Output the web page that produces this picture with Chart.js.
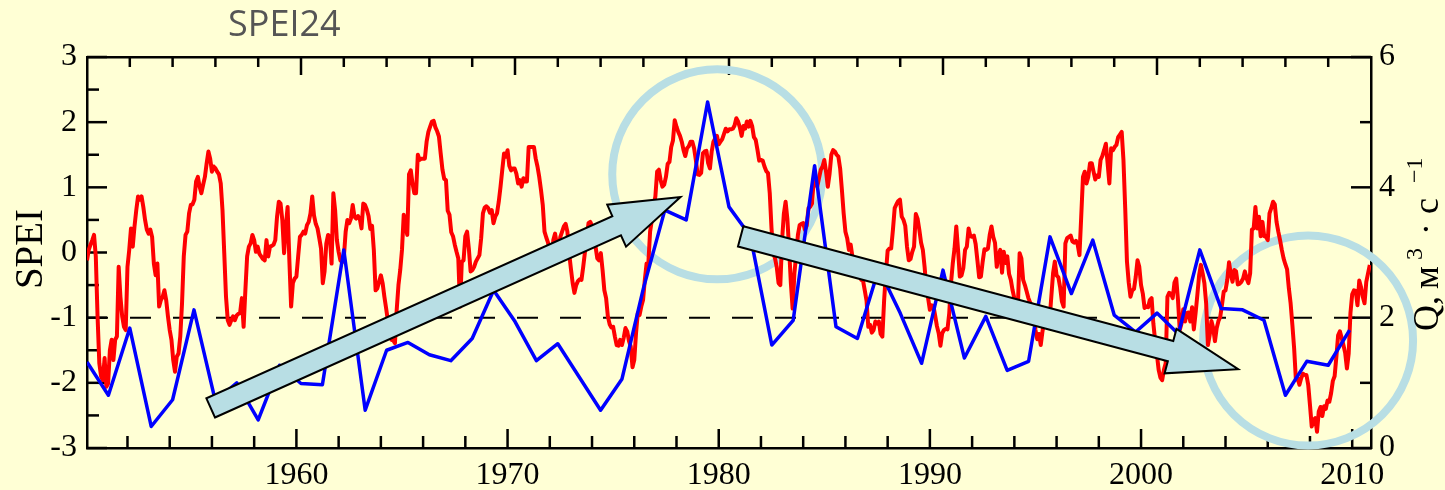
<!DOCTYPE html>
<html>
<head>
<meta charset="utf-8">
<title>SPEI24 и расход воды</title>
<script src="https://cdn.jsdelivr.net/npm/chart.js@4.4.1/dist/chart.umd.min.js"></script>
<style>
  html, body { margin: 0; padding: 0; background: #FFFFD5; }
  #wrap { width: 1445px; height: 490px; }
</style>
</head>
<body>
<div id="wrap"><canvas id="chart" width="1445" height="490"></canvas></div>
<script>
// SPEI-24, monthly values (January of each decade first)
const spei1950s = [
  -0.12, 0.04, 0.12, 0.19, 0.27, -0.06, -0.98, -1.70, -1.90, -1.96,
  -1.62, -2.06, -2.01, -1.50, -1.34, -1.65, -1.34, -1.29, -0.22, -0.68,
  -0.98, -1.14, -1.19, -0.22, 0.04, 0.37, 0.09, 0.40, 0.65, 0.86,
  0.81, 0.86, 0.70, 0.50, 0.35, 0.29, 0.35, 0.24, -0.17, -0.35,
  -0.17, -0.83, -0.73, -0.68, -0.58, -0.73, -0.98, -1.19, -1.34, -1.65,
  -1.83, -1.60, -1.55, -1.29, -0.78, -0.06, 0.27, 0.32, 0.60, 0.73,
  0.74, 0.81, 1.09, 1.16, 1.01, 0.91, 1.04, 1.16, 1.37, 1.55,
  1.44, 1.24, 1.32, 1.29, 1.24, 1.20, 1.06, 0.65, -0.01, -0.68,
  -1.04, -1.11, -1.04, -0.98, -1.04, -0.97, -0.94, -0.93, -0.70, -1.14,
  -0.58, -0.06, 0.09, 0.14, 0.27, 0.19, 0.01, 0.09, -0.02, -0.06,
  -0.10, -0.12, 0.19, -0.06, 0.09, 0.10, 0.12, 0.19, 0.55, 0.78,
  0.75, 0.50, -0.01, 0.40, 0.70, -0.12, -0.83, -0.47, -0.40, -0.37
];
const spei1960s = [
  -0.06, 0.24, 0.27, 0.32, 0.29, 0.42, 0.47, 0.60, 0.86, 0.57,
  0.44, 0.37, 0.22, 0.06, -0.47, -0.29, 0.14, 0.27, 0.24, -0.17,
  0.91, 0.65, 0.19, 0.01, -0.12, -0.15, -0.06, 0.32, 0.50, 0.45,
  0.52, 0.73, 0.55, 0.52, 0.56, 0.52, 0.37, 0.75, 0.73, 0.66,
  0.56, 0.36, 0.41, 0.04, -0.58, -0.55, -0.45, -0.35, -0.47, -0.68,
  -0.86, -1.05, -1.24, -1.34, -1.35, -1.39, -0.88, -0.50, -0.27, 0.04,
  0.58, 0.40, 0.27, 1.20, 1.26, 1.06, 0.91, 0.91, 1.50, 1.42,
  1.44, 1.44, 1.44, 1.70, 1.85, 1.93, 2.01, 2.02, 1.92, 1.86,
  1.78, 1.52, 1.27, 1.13, 1.11, 0.64, 0.58, 0.31, 0.25, 0.12,
  0.01, -0.09, -0.83, -0.14, -0.12, 0.25, 0.32, 0.06, -0.29, -0.27,
  -0.22, -0.14, -0.09, -0.04, 0.22, 0.60, 0.69, 0.71, 0.68, 0.61,
  0.65, 0.45, 0.55, 0.60, 0.78, 1.01, 1.27, 1.52, 1.47, 1.57
];
const spei1970s = [
  1.33, 1.26, 1.29, 1.29, 1.21, 1.06, 1.11, 1.01, 1.14, 1.09,
  1.09, 1.62, 1.62, 1.62, 1.62, 1.44, 1.32, 1.16, 0.96, 0.73,
  0.32, 0.23, 0.15, -0.01, -0.14, 0.19, 0.29, 0.12, 0.05, 0.24,
  0.32, 0.40, 0.44, 0.32, -0.01, -0.25, -0.47, -0.62, -0.50, -0.44,
  -0.41, -0.42, -0.22, 0.01, 0.24, 0.45, 0.47, 0.41, 0.12, 0.09,
  -0.09, -0.12, -0.01, -0.27, -0.58, -0.70, -0.98, -1.10, -1.15, -1.14,
  -1.29, -1.42, -1.43, -1.34, -1.42, -1.31, -1.16, -1.21, -1.36, -1.44,
  -1.76, -1.65, -1.24, -0.93, -0.96, -0.83, -0.73, -0.42, -0.17, -0.17,
  0.32, 0.50, 0.71, 0.86, 1.24, 1.27, 1.11, 1.01, 1.04, 1.16,
  1.36, 1.39, 1.62, 1.72, 2.03, 1.93, 1.85, 1.79, 1.70, 1.57,
  1.48, 1.60, 1.63, 1.70, 1.70, 1.60, 1.42, 1.20, 1.19, 1.22,
  1.52, 1.55, 1.56, 1.37, 1.29, 1.55, 1.70, 1.75, 1.79, 1.66
];
const spei1980s = [
  1.70, 1.74, 1.82, 1.90, 1.86, 1.89, 1.89, 1.90, 1.95, 2.06,
  2.01, 1.92, 1.79, 1.94, 1.90, 2.01, 1.93, 2.02, 1.94, 1.77,
  1.73, 1.58, 1.41, 1.42, 1.41, 1.32, 1.25, 1.22, 0.91, 0.37,
  -0.01, -0.09, -0.23, -0.47, -0.50, 0.19, 0.59, 0.78, 0.52, 0.06,
  -0.47, -0.86, -0.32, -0.04, 0.27, 0.42, 0.44, 0.45, 0.35, 0.41,
  0.68, 0.70, 0.75, 1.11, 1.14, 1.01, 1.14, 1.27, 1.32, 1.42,
  1.24, 1.01, 1.21, 1.50, 1.57, 1.55, 1.50, 1.47, 1.29, 0.96,
  0.60, 0.32, 0.22, 0.04, 0.12, -0.07, -0.14, -0.18, -0.21, -0.35,
  -0.42, -0.43, -0.58, -0.74, -1.14, -1.11, -1.23, -1.19, -1.06, -1.09,
  -1.06, -1.25, -1.29, -0.73, -0.32, 0.03, 0.06, 0.06, 0.35, 0.68,
  0.74, 0.79, 0.81, 0.55, 0.50, 0.41, 0.09, -0.12, -0.10, 0.01,
  0.09, 0.59, 0.52, 0.35, 0.15, 0.04, -0.22, -0.56, -0.70, -0.88
];
const spei1990s = [
  -0.81, -0.82, -0.97, -1.13, -1.24, -1.43, -1.24, -1.19, -1.17, -1.18,
  -0.93, -0.47, -0.17, 0.06, 0.40, 0.04, -0.37, -0.35, -0.24, 0.04,
  0.09, 0.37, 0.25, 0.24, 0.26, 0.13, -0.12, -0.38, -0.37, -0.14,
  0.05, 0.04, 0.06, 0.27, 0.40, 0.24, 0.15, -0.22, -0.04, 0.04,
  -0.31, 0.01, -0.16, -0.06, -0.33, -0.42, -0.58, -0.70, -0.78, -0.83,
  -0.01, -0.09, -0.42, -0.50, -0.60, -0.70, -0.77, -0.83, -0.93, -1.19,
  -1.33, -1.25, -1.42, -1.21, -1.04, -1.02, -1.01, -1.04, -0.68, -0.32,
  -0.14, -0.35, -0.38, -0.53, -0.75, -0.83, 0.14, 0.22, 0.24, 0.26,
  0.17, 0.15, 0.18, 0.12, -0.04, 0.55, 1.16, 1.24, 1.06, 1.16,
  1.37, 1.37, 1.24, 1.12, 1.18, 1.16, 1.42, 1.48, 1.57, 1.67,
  1.37, 1.06, 1.60, 1.57, 1.62, 1.65, 1.77, 1.81, 1.85, 1.42,
  0.68, -0.14, -0.46, -0.68, -0.58, -0.56, -0.37, -0.12, -0.22, -0.50
];
const spei2000s = [
  -0.63, -0.85, -0.83, -0.84, -0.73, -0.70, -1.09, -1.35, -1.56, -1.80,
  -1.92, -1.96, -1.80, -1.70, -0.68, -0.62, -0.63, -0.70, -0.46, -0.40,
  -0.73, -1.19, -1.09, -0.87, -1.06, -0.93, -0.92, -1.06, -0.84, -1.18,
  -0.93, -0.65, -0.35, -0.19, -0.32, -0.47, -0.78, -1.42, -1.27, -1.05,
  -1.16, -1.36, -1.16, -1.05, -0.99, -0.80, -0.60, -0.58, -0.42, -0.15,
  -0.33, -0.45, -0.27, -0.29, -0.49, -0.48, -0.45, -0.40, -0.29, -0.40,
  -0.47, -0.32, 0.35, 0.37, 0.70, 0.37, 0.55, 0.25, 0.47, 0.25,
  0.24, 0.19, 0.60, 0.68, 0.78, 0.74, 0.47, 0.32, 0.19, 0.04,
  -0.09, -0.18, -0.26, -0.55, -0.78, -1.11, -1.47, -1.95, -1.93, -2.03,
  -1.93, -1.86, -1.88, -1.88, -2.03, -2.34, -2.67, -2.57, -2.54, -2.75,
  -2.44, -2.37, -2.51, -2.36, -2.40, -2.27, -2.29, -2.16, -1.97, -1.90,
  -1.60, -1.27, -1.21, -1.31, -1.42, -1.54, -1.78, -1.55, -0.93, -0.64
];
const spei2010 = [-0.58, -0.59, -0.81, -0.43, -0.53, -0.68, -0.78, -0.45, -0.32, -0.19];

// Mean annual discharge Q, m3/s
const qYears = [
  1950, 1951, 1952, 1953, 1954, 1955, 1956, 1957, 1958, 1959,
  1960, 1961, 1962, 1963, 1964, 1965, 1966, 1967, 1968, 1969,
  1970, 1971, 1972, 1973, 1974, 1975, 1976, 1977, 1978, 1979,
  1980, 1981, 1982, 1983, 1984, 1985, 1986, 1987, 1988, 1989,
  1990, 1991, 1992, 1993, 1994, 1995, 1996, 1997, 1998, 1999,
  2000, 2001, 2002, 2003, 2004, 2005, 2006, 2007, 2008, 2009
];
const qValues = [
  1.32, 0.81, 1.84, 0.33, 0.74, 2.12, 0.72, 1.00, 0.43, 1.27,
  0.99, 0.97, 3.04, 0.58, 1.50, 1.62, 1.43, 1.34, 1.68, 2.42,
  1.94, 1.34, 1.60, 1.09, 0.58, 1.06, 2.45, 3.65, 3.50, 5.31,
  3.70, 3.25, 1.58, 1.96, 4.33, 1.86, 1.68, 2.75, 2.07, 1.30,
  2.73, 1.38, 2.02, 1.19, 1.33, 3.24, 2.37, 3.19, 2.04, 1.78,
  2.07, 1.75, 3.04, 2.14, 2.12, 1.96, 0.81, 1.33, 1.27, 1.81
];

// Drought threshold
const droughtLevel = -1;

// Axis ranges: SPEI on the left, Q on the right
const speiRange = [-3, 3];
const qRange = [0, 6];
const monthAxisRange = [1950 + 1 / 12, 2010.89];
const yearAxisRange = [1950, 2010];

// Highlighted periods and trend arrows, in (year, SPEI) units
const trendArrows = [
  { from: [1955.94, -2.385], to: [1978.19, 0.851] },
  { from: [1981.04, 0.248], to: [2004.60, -1.79] }
];
const highlightRings = [
  { at: [1979.93, 1.20] },
  { at: [2007.91, -1.35] }
];

// ---------------------------------------------------------------
const speiMonthly = [].concat(spei1950s, spei1960s, spei1970s, spei1980s, spei1990s, spei2000s, spei2010);
const speiPoints = speiMonthly.map((v, i) => ({ x: monthAxisRange[0] + i / 12, y: v }));
const qPoints = qYears.map((yr, i) => ({ x: yr, y: qValues[i] }));
const thresholdPoints = [
  { x: monthAxisRange[0], y: droughtLevel },
  { x: monthAxisRange[1], y: droughtLevel }
];

const BG = '#FFFFD5';
const PALE_BLUE = '#B8DEE4';
const SERIF = '"Liberation Serif", "Times New Roman", serif';

const background = {
  id: 'background',
  beforeDraw(chart) {
    const { ctx, width, height } = chart;
    ctx.save();
    ctx.fillStyle = BG;
    ctx.fillRect(0, 0, width, height);
    ctx.restore();
  }
};

// Inward tick marks on all four sides of the frame
const frameTicks = {
  id: 'frameTicks',
  beforeDatasetsDraw(chart) {
    const { ctx, chartArea: a, scales } = chart;
    ctx.save();
    ctx.strokeStyle = '#000';
    ctx.lineWidth = 2.5;
    const seg = (x0, y0, x1, y1) => { ctx.beginPath(); ctx.moveTo(x0, y0); ctx.lineTo(x1, y1); ctx.stroke(); };
    for (let k = 0; k <= 12; k++) {
      const v = speiRange[0] + k * 0.5;
      const y = scales.y.getPixelForValue(v);
      seg(a.left, y, a.left + (k % 2 === 0 ? 20 : 12), y);
    }
    for (let v = qRange[0]; v <= qRange[1]; v++) {
      const y = scales.y2.getPixelForValue(v);
      seg(a.right, y, a.right - (v % 2 === 0 ? 20 : 11), y);
    }
    for (let yr = 1952; yr <= 2010; yr += 2) {
      const x = scales.x.getPixelForValue(yr);
      seg(x, a.bottom, x, a.bottom - (yr % 10 === 0 ? 19 : 12));
    }
    for (let yr = 1952; yr < 2010; yr += 2) {
      const x = scales.x2.getPixelForValue(yr);
      seg(x, a.top, x, a.top + (yr % 10 === 0 ? 18 : 10));
    }
    ctx.restore();
  }
};

function ringsAt(chart) {
  const { ctx, scales } = chart;
  ctx.save();
  ctx.strokeStyle = PALE_BLUE;
  ctx.lineWidth = 8;
  highlightRings.forEach(r => {
    const cx = scales.x.getPixelForValue(r.at[0]);
    const cy = scales.y.getPixelForValue(r.at[1]);
    ctx.beginPath();
    ctx.arc(cx, cy, 105, 0, Math.PI * 2);
    ctx.stroke();
  });
  ctx.restore();
}

function arrowsAt(chart) {
  const { ctx, scales } = chart;
  const shaft = 21, head = 46, headLen = 70;
  ctx.save();
  ctx.fillStyle = PALE_BLUE;
  ctx.strokeStyle = '#000';
  ctx.lineWidth = 2;
  ctx.lineJoin = 'miter';
  trendArrows.forEach(a => {
    const x0 = scales.x.getPixelForValue(a.from[0]), y0 = scales.y.getPixelForValue(a.from[1]);
    const x1 = scales.x.getPixelForValue(a.to[0]), y1 = scales.y.getPixelForValue(a.to[1]);
    const len = Math.hypot(x1 - x0, y1 - y0);
    const ux = (x1 - x0) / len, uy = (y1 - y0) / len;
    const nx = -uy, ny = ux;
    const jx = x1 - ux * headLen, jy = y1 - uy * headLen;
    const p = (bx, by, w) => [bx + nx * w, by + ny * w];
    const pts = [
      p(x0, y0, shaft / 2), p(jx, jy, shaft / 2), p(jx, jy, head / 2), [x1, y1],
      p(jx, jy, -head / 2), p(jx, jy, -shaft / 2), p(x0, y0, -shaft / 2)
    ];
    ctx.beginPath();
    pts.forEach((q, i) => i ? ctx.lineTo(q[0], q[1]) : ctx.moveTo(q[0], q[1]));
    ctx.closePath();
    ctx.fill();
    ctx.stroke();
  });
  ctx.restore();
}

const annotations = {
  id: 'annotations',
  beforeDatasetsDraw(chart) { ringsAt(chart); },
  afterDatasetsDraw(chart) { arrowsAt(chart); }
};

// Titles: chart name, SPEI axis and discharge axis with superscripts
const titles = {
  id: 'titles',
  afterDraw(chart) {
    const { ctx } = chart;
    ctx.save();
    ctx.fillStyle = '#555555';
    ctx.font = '36px "Open Sans", sans-serif';
    ctx.textBaseline = 'alphabetic';
    ctx.textAlign = 'left';
    ctx.fillText('SPEI24', 228, 36);

    ctx.fillStyle = '#000';
    ctx.save();
    ctx.translate(42, 249);
    ctx.rotate(-Math.PI / 2);
    ctx.font = '39px ' + SERIF;
    ctx.textAlign = 'center';
    ctx.fillText('SPEI', 0, 0);
    ctx.restore();

    // Q, м³·с⁻¹ — read from bottom to top
    ctx.save();
    ctx.translate(1438, 331);
    ctx.rotate(-Math.PI / 2);
    ctx.textAlign = 'left';
    const parts = [
      { t: 'Q,', size: 36, at: 0, rise: 0 },
      { t: 'м', size: 36, at: 42, rise: 0 },
      { t: '3', size: 24, at: 71, rise: 16 },
      { t: '·', size: 36, at: 96, rise: 0 },
      { t: 'с', size: 36, at: 117, rise: 0 },
      { t: '\u22121', size: 24, at: 148, rise: 16 }
    ];
    parts.forEach(pt => {
      ctx.font = pt.size + 'px ' + SERIF;
      ctx.fillText(pt.t, pt.at, -pt.rise);
    });
    ctx.restore();
    ctx.restore();
  }
};

const axisFont = { family: SERIF, size: 32 };

new Chart(document.getElementById('chart'), {
  type: 'line',
  data: {
    datasets: [
      {
        label: 'Q', data: qPoints, xAxisID: 'x2', yAxisID: 'y2',
        borderColor: '#0000FF', borderWidth: 3.5, pointRadius: 0,
        borderJoinStyle: 'round', tension: 0, order: 0
      },
      {
        label: 'SPEI24', data: speiPoints, xAxisID: 'x', yAxisID: 'y',
        borderColor: '#FF0000', borderWidth: 4, pointRadius: 0,
        borderJoinStyle: 'round', tension: 0, order: 1
      },
      {
        label: 'threshold', data: thresholdPoints, xAxisID: 'x', yAxisID: 'y',
        borderColor: '#000', borderWidth: 2, borderDash: [21, 22], pointRadius: 0, order: 2
      }
    ]
  },
  options: {
    responsive: false,
    animation: false,
    devicePixelRatio: 1,
    layout: { padding: 0 },
    plugins: { legend: { display: false }, tooltip: { enabled: false }, title: { display: false } },
    scales: {
      x: {
        type: 'linear', position: 'bottom', min: monthAxisRange[0], max: monthAxisRange[1],
        grid: { display: false, drawTicks: false },
        border: { display: true, color: '#000', width: 2.5 },
        ticks: {
          stepSize: 10, includeBounds: false, padding: 8, color: '#000', font: axisFont,
          maxRotation: 0, autoSkip: false, callback: v => String(v)
        },
        afterFit: s => { s.height = 42; }
      },
      x2: {
        type: 'linear', position: 'top', min: yearAxisRange[0], max: yearAxisRange[1],
        grid: { display: false, drawTicks: false },
        border: { display: true, color: '#000', width: 2.5 },
        ticks: { display: false },
        afterFit: s => { s.height = 57; }
      },
      y: {
        type: 'linear', position: 'left', min: speiRange[0], max: speiRange[1],
        grid: { display: false, drawTicks: false },
        border: { display: true, color: '#000', width: 2.5 },
        ticks: { stepSize: 1, padding: 10, color: '#000', font: axisFont },
        afterFit: s => { s.width = 87; }
      },
      y2: {
        type: 'linear', position: 'right', min: qRange[0], max: qRange[1],
        grid: { display: false, drawTicks: false },
        border: { display: true, color: '#000', width: 2.5 },
        ticks: { stepSize: 2, padding: 8, color: '#000', font: axisFont },
        afterFit: s => { s.width = 74; }
      }
    }
  },
  plugins: [background, frameTicks, annotations, titles]
});
</script>
</body>
</html>
